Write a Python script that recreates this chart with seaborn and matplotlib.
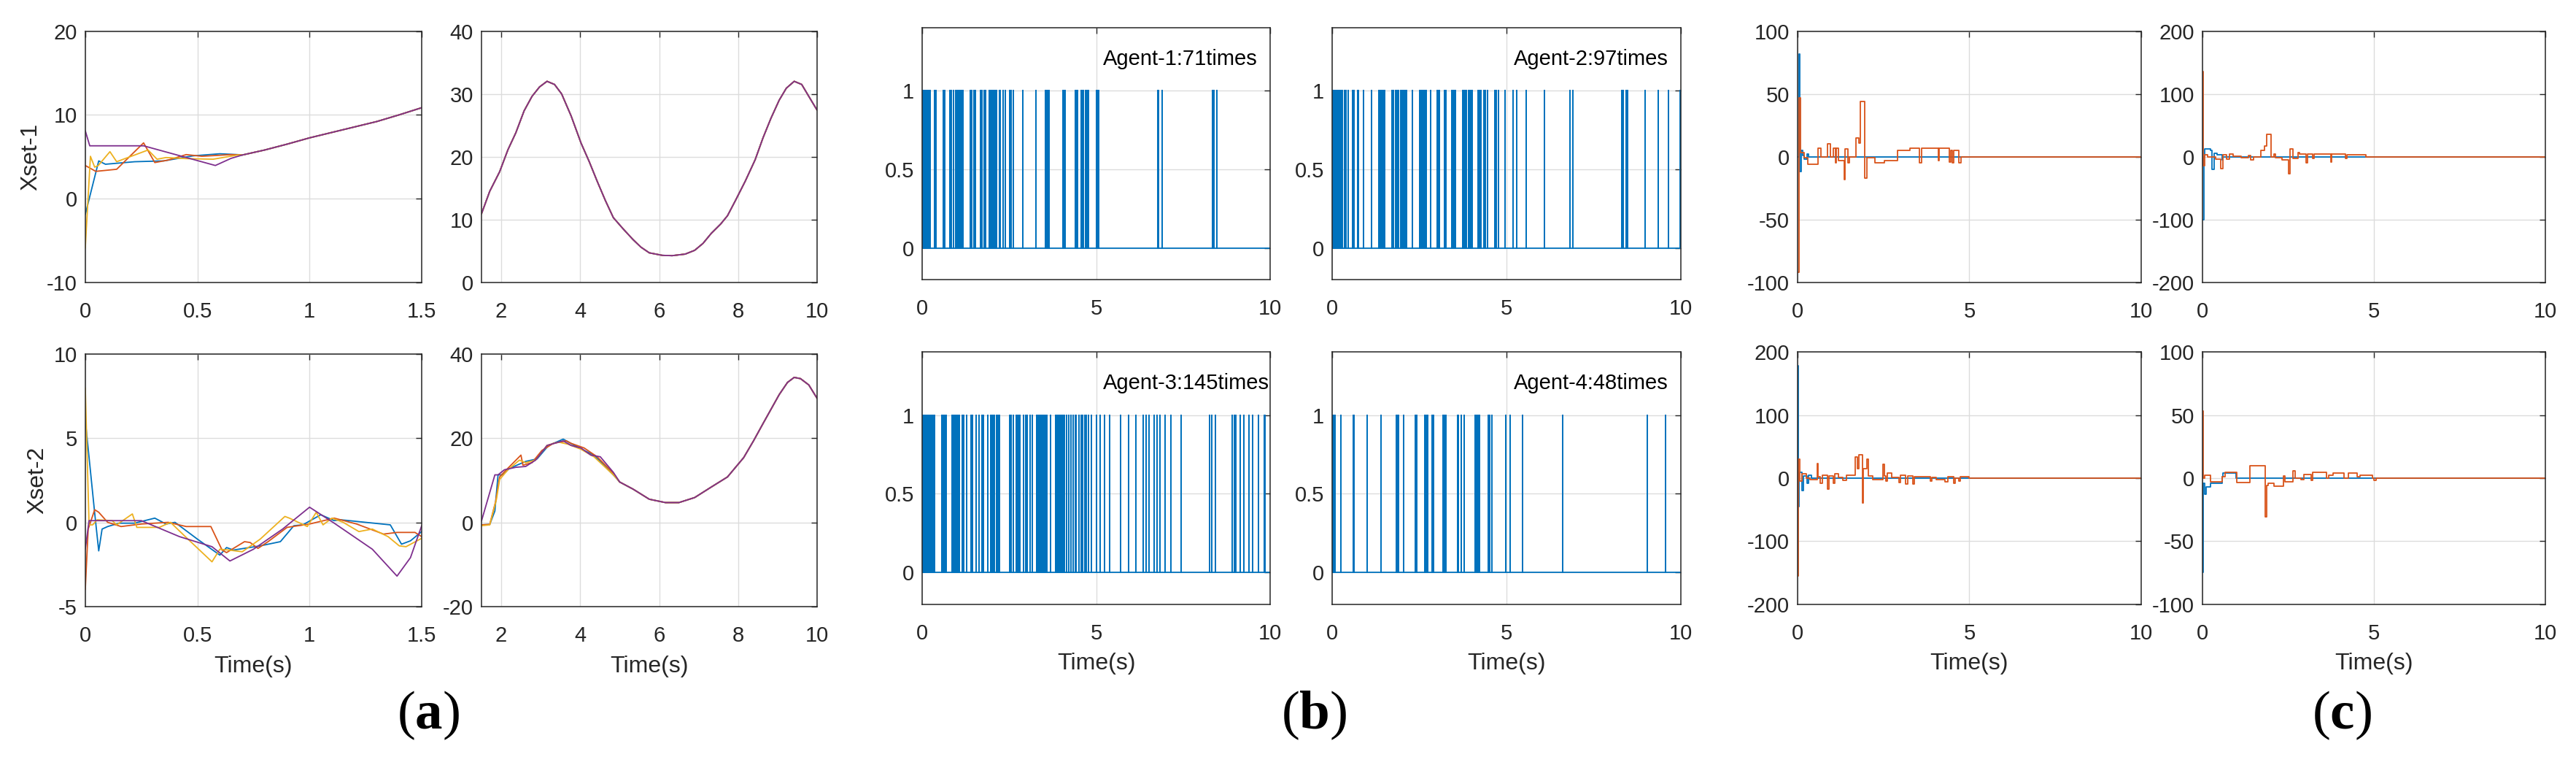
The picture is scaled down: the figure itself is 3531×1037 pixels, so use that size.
import numpy as np
import pandas as pd
import matplotlib
matplotlib.use("Agg")
import matplotlib.pyplot as plt
import seaborn as sns
from matplotlib.ticker import FuncFormatter

AGENTS = ["Agent-1", "Agent-2", "Agent-3", "Agent-4"]
MATLAB_COLORS = ["#0072BD", "#D95319", "#EDB120", "#7E2F8E"]
SIM_END = 10.0

# ---- panel (a): Xset-1, first 1.5 s ----
x1_blue_t = [0, 0.06, 0.09, 0.22, 0.35, 0.48, 0.60, 0.68]
x1_blue_v = [-1.9, 4.5, 4.1, 4.4, 4.5, 5.1, 5.35, 5.25]
x1_orange_t = [0, 0.047, 0.14, 0.26, 0.31, 0.37, 0.45, 0.52, 0.65]
x1_orange_v = [3.95, 3.25, 3.5, 6.65, 4.3, 4.6, 5.25, 5.05, 5.25]
x1_yellow_t = [0, 0.023, 0.042, 0.058, 0.11, 0.14, 0.22, 0.28, 0.32, 0.36, 0.45, 0.57, 0.68]
x1_yellow_v = [-5.9, 5.05, 3.75, 3.95, 5.6, 4.4, 5.2, 5.8, 4.7, 4.9, 4.77, 4.7, 5.2]
x1_purple_t = [0, 0.02, 0.26, 0.58, 0.65]
x1_purple_v = [8.1, 6.3, 6.3, 3.95, 4.8]
# all agents agree after ~0.7 s
x1_common_t = [0.7, 0.8, 0.9, 1.0, 1.1, 1.2, 1.3, 1.4, 1.5]
x1_common_v = [5.2, 5.8, 6.5, 7.25, 7.9, 8.55, 9.2, 10.0, 10.85]

# ---- panel (a): Xset-1, 1.5 s .. 10 s (agents overlap) ----
x1_tail_t = [1.5, 1.71, 1.96, 2.17, 2.37, 2.58, 2.78, 2.97, 3.16, 3.35, 3.53, 3.77,
             4.02, 4.23, 4.43, 4.64, 4.84, 5.09, 5.34, 5.54, 5.75, 6.08, 6.33, 6.66,
             6.9, 7.11, 7.32, 7.56, 7.73, 7.93, 8.18, 8.43, 8.63, 8.83, 9.04, 9.22,
             9.42, 9.61, 9.79, 10.0]
x1_tail_v = [10.9, 14.5, 17.6, 21.1, 23.8, 27.3, 29.6, 31.1, 32.0, 31.5, 30.0, 26.5,
             22.2, 19.2, 16.1, 13.0, 10.3, 8.5, 6.8, 5.6, 4.7, 4.3, 4.25, 4.5,
             5.1, 6.2, 7.8, 9.3, 10.6, 13.0, 16.1, 19.5, 23.0, 26.1, 29.0, 30.9,
             32.0, 31.5, 29.6, 27.4]

# ---- panel (a): Xset-2, first 1.5 s ----
x2_blue_t = [0, 0.042, 0.06, 0.075, 0.1, 0.15, 0.22, 0.31, 0.36, 0.4, 0.5, 0.6, 0.63,
             0.66, 0.78, 0.87, 0.93, 0.97, 1.05, 1.11, 1.14, 1.36, 1.41, 1.45, 1.5]
x2_blue_v = [6.1, 0.55, -1.7, -0.4, -0.25, -0.05, -0.05, 0.25, -0.1, 0.0, -1.0, -1.95, -1.5,
             -1.65, -1.4, -1.15, -0.2, -0.15, 0.45, 0.1, 0.15, -0.15, -1.3, -1.1, -0.55]
x2_orange_t = [0, 0.013, 0.042, 0.06, 0.1, 0.16, 0.25, 0.37, 0.45, 0.56, 0.61, 0.63, 0.71,
               0.735, 0.77, 0.815, 0.9, 1.0, 1.11, 1.21, 1.33, 1.39, 1.47, 1.5]
x2_orange_v = [-4.0, -0.4, 0.75, 0.6, 0.0, -0.25, -0.1, 0.0, -0.25, -0.25, -1.65, -1.8, -1.15,
               -1.2, -1.55, -1.15, -0.3, -0.1, 0.25, -0.1, -0.7, -0.6, -0.6, -0.85]
x2_yellow_t = [0, 0.017, 0.033, 0.053, 0.12, 0.14, 0.21, 0.23, 0.33, 0.38, 0.45, 0.565, 0.6,
               0.64, 0.7, 0.78, 0.89, 0.91, 0.99, 1.03, 1.06, 1.1, 1.15, 1.22, 1.28, 1.35,
               1.4, 1.43, 1.5]
x2_yellow_v = [8.0, -0.15, -0.15, 0.15, 0.1, -0.15, 0.5, -0.3, -0.3, 0.0, -0.9, -2.35, -1.6,
               -1.65, -1.75, -1.0, 0.35, 0.25, -0.25, 0.6, -0.15, 0.25, 0.0, -0.55, -0.4, -0.85,
               -1.4, -1.45, -0.95]
x2_purple_t = [0, 0.017, 0.05, 0.25, 0.42, 0.565, 0.645, 0.75, 0.88, 1.0, 1.11, 1.28, 1.39, 1.45, 1.5]
x2_purple_v = [-1.6, 0.1, 0.1, 0.1, -0.85, -1.45, -2.3, -1.6, -0.4, 0.9, -0.05, -1.6, -3.2, -2.1, -0.2]

# ---- panel (a): Xset-2, 1.5 s .. 10 s ----
x2r_blue_t = [1.5, 1.71, 1.84, 1.92, 2.04, 2.2, 2.62, 2.91, 3.2, 3.57, 3.86, 4.1, 4.35, 4.84]
x2r_blue_v = [-0.6, -0.5, 2.7, 11.3, 11.3, 12.8, 14.5, 15.1, 18.3, 19.8, 18.3, 17.1, 16.0, 11.3]
x2r_orange_t = [1.5, 1.71, 1.86, 1.96, 2.13, 2.5, 2.55, 2.78, 3.03, 3.32, 3.65, 3.77, 4.1, 4.43, 4.84]
x2r_orange_v = [-0.6, -0.5, 5.0, 10.8, 12.5, 16.0, 13.6, 14.2, 17.1, 18.8, 19.4, 18.8, 17.7, 15.6, 11.7]
x2r_yellow_t = [1.5, 1.71, 1.88, 1.96, 2.17, 2.46, 2.62, 2.87, 3.16, 3.45, 3.69, 4.02, 4.35, 4.84]
x2r_yellow_v = [-0.8, -0.6, 5.5, 10.2, 12.5, 14.8, 14.2, 14.8, 18.3, 19.1, 18.6, 17.4, 15.6, 11.3]
x2r_purple_t = [1.5, 1.84, 1.92, 2.08, 2.37, 2.62, 2.87, 3.16, 3.57, 3.77, 4.02, 4.27, 4.51, 4.84]
x2r_purple_v = [0.3, 11.3, 11.3, 12.5, 13.1, 13.3, 14.8, 18.3, 19.4, 18.3, 17.7, 16.0, 15.6, 11.9]
x2_tail_t = [5.0, 5.34, 5.75, 6.16, 6.5, 6.9, 7.32, 7.73, 8.14, 8.39, 8.63, 9.04, 9.25, 9.42, 9.58, 9.79, 10.0]
x2_tail_v = [9.6, 7.9, 5.5, 4.7, 4.7, 5.9, 8.4, 10.8, 15.4, 19.4, 23.5, 30.4, 33.3, 34.5, 34.2, 32.7, 29.5]

# ---- panel (b): event-triggering instants (s) ----
b_counts = [71, 97, 145, 48]
b1_events = [0.0, 0.02, 0.03, 0.06, 0.08, 0.1, 0.14, 0.18, 0.22, 0.36, 0.40, 0.60, 0.64, 0.80,
             0.84, 0.90, 0.96, 1.0, 1.04, 1.08, 1.12, 1.18, 1.38, 1.43, 1.48, 1.52, 1.68, 1.72,
             1.78, 1.82, 1.93, 1.97, 2.01, 2.05, 2.09, 2.13, 2.21, 2.25, 2.33, 2.38, 2.51, 2.56,
             2.61, 2.9, 3.26, 3.55, 3.57, 3.6, 3.63, 3.65, 4.05, 4.09, 4.11, 4.41, 4.43, 4.47,
             4.57, 4.59, 4.63, 4.69, 4.73, 4.77, 5.01, 5.05, 5.07, 6.76, 6.79, 6.9, 8.35, 8.38, 8.46]
b2_events = [0.0, 0.01, 0.03, 0.04, 0.06, 0.08, 0.1, 0.12, 0.16, 0.22, 0.26, 0.3, 0.35, 0.4,
             0.46, 0.58, 0.6, 0.63, 0.74, 0.76, 0.9, 1.14, 1.34, 1.36, 1.39, 1.42, 1.44, 1.46,
             1.5, 1.72, 1.76, 1.82, 1.86, 1.9, 1.97, 2.0, 2.02, 2.04, 2.07, 2.08, 2.1, 2.12,
             2.14, 2.31, 2.51, 2.54, 2.56, 2.59, 2.62, 2.66, 2.7, 2.82, 3.02, 3.04, 3.07, 3.22,
             3.24, 3.27, 3.43, 3.46, 3.48, 3.5, 3.54, 3.75, 3.78, 3.82, 3.86, 3.91, 3.93, 3.95,
             3.99, 4.02, 4.18, 4.22, 4.26, 4.35, 4.4, 4.46, 4.67, 4.71, 4.78, 4.96, 5.18, 5.3,
             5.56, 6.08, 6.82, 6.9, 8.31, 8.35, 8.43, 8.47, 8.98, 9.35, 9.64, 9.98]
b3_events = [0.0, 0.02, 0.04, 0.06, 0.08, 0.1, 0.12, 0.14, 0.16, 0.18, 0.22, 0.26, 0.32, 0.36,
             0.56, 0.6, 0.64, 0.68, 0.86, 0.9, 0.94, 0.98, 1.02, 1.07, 1.15, 1.19, 1.28, 1.4,
             1.44, 1.54, 1.64, 1.72, 1.76, 1.88, 1.96, 2.0, 2.04, 2.08, 2.13, 2.17, 2.21, 2.51,
             2.55, 2.61, 2.7, 2.73, 2.77, 2.81, 2.91, 2.98, 3.02, 3.09, 3.17, 3.29, 3.3, 3.31,
             3.34, 3.36, 3.38, 3.4, 3.41, 3.43, 3.44, 3.46, 3.48, 3.5, 3.52, 3.53, 3.55, 3.58,
             3.69, 3.83, 3.84, 3.85, 3.87, 3.88, 3.9, 3.92, 3.94, 3.95, 3.97, 3.99, 4.0, 4.02,
             4.04, 4.05, 4.07, 4.08, 4.09, 4.15, 4.21, 4.27, 4.33, 4.39, 4.43, 4.51, 4.57, 4.61,
             4.67, 4.72, 4.77, 4.87, 5.0, 5.11, 5.23, 5.39, 5.69, 5.93, 6.15, 6.34, 6.44, 6.52,
             6.66, 6.75, 6.83, 6.98, 7.14, 7.44, 8.26, 8.32, 8.42, 8.9, 8.96, 9.02, 9.14, 9.25,
             9.38, 9.5, 9.66, 9.82, 9.86]
b4_events = [0.0, 0.01, 0.03, 0.04, 0.06, 0.08, 0.26, 0.6, 0.64, 1.0, 1.4, 1.84, 1.87, 1.9,
             2.06, 2.38, 2.42, 2.66, 2.68, 2.7, 2.71, 2.74, 2.86, 2.9, 3.18, 3.2, 3.23, 3.27,
             3.6, 3.63, 3.7, 3.78, 4.11, 4.12, 4.14, 4.16, 4.19, 4.2, 4.22, 4.48, 4.51, 4.58,
             4.98, 5.1, 5.46, 6.62, 9.04, 9.56]

# ---- panel (c): control inputs, sample-and-hold (s, value) ----
c1_blue_t = [0, 0.04, 0.07, 0.1, 0.15, 0.2, 0.27, 0.33, 10]
c1_blue_v = [0, 82, -12, 5, 1, -2, 2, 0, 0]
c1_orange_t = [0, 0.05, 0.08, 0.2, 0.3, 0.6, 0.68, 0.88, 0.96, 1.04, 1.1, 1.13, 1.19, 1.35,
               1.39, 1.47, 1.51, 1.71, 1.78, 1.82, 1.96, 2.01, 2.25, 2.53, 2.65, 2.9, 3.28,
               3.55, 3.6, 4.09, 4.13, 4.42, 4.46, 4.5, 4.54, 4.6, 4.7, 4.75, 10]
c1_orange_v = [-92, 47, 3, -1, -6, 7, 0, 10, 0, 7, -5, 7, -3, -18,
               6, -5, 0, 15, 11, 44, -17, -1, -5, -3, -3, 5, 7,
               -5, 7, -3, 7, -4, 5, -5, 5, 5, -5, 0, 0]
c2_blue_t = [0, 0.05, 0.07, 0.23, 0.27, 0.33, 0.43, 0.57, 0.6, 10]
c2_blue_v = [-100, 0, 12, 10, -20, 5, 3, -5, 0, 0]
c2_orange_t = [0, 0.03, 0.06, 0.15, 0.39, 0.54, 0.6, 0.7, 0.78, 0.9, 1.13, 1.33, 1.41, 1.49,
               1.7, 1.8, 1.88, 2.0, 2.08, 2.12, 2.32, 2.51, 2.55, 2.63, 2.79, 2.83, 3.03, 3.07,
               3.22, 3.26, 3.74, 3.77, 4.17, 4.21, 4.76, 10]
c2_orange_v = [136, -14, 3, 0, -4, -19, 3, -4, 4, 1, -2, 2, -5, 0,
               10, 17, 36, 0, 4, -2, -5, -27, 12, -3, 7, 4, -10, 4,
               -3, 4, -8, 4, -3, 3, 0, 0]
c3_blue_t = [0, 0.02, 0.05, 0.13, 0.18, 0.27, 0.32, 0.4, 10]
c3_blue_v = [178, -45, 9, -20, 3, -8, 5, 0, 0]
c3_orange_t = [0, 0.02, 0.07, 0.13, 0.25, 0.37, 0.57, 0.59, 0.67, 0.72, 0.88, 0.92, 1.04, 1.08,
               1.19, 1.31, 1.43, 1.67, 1.75, 1.78, 1.9, 1.92, 2.02, 2.06, 2.18, 2.49, 2.53,
               2.57, 2.61, 2.73, 2.96, 3.0, 3.14, 3.2, 3.36, 3.4, 3.87, 3.91, 4.03, 4.3, 4.38,
               4.54, 4.58, 4.69, 4.73, 5.0, 10]
c3_orange_v = [-155, 30, -5, 7, 0, -2, 23, 2, -8, 5, -18, 3, -8, 7,
               1, -4, 5, 33, 15, 37, -40, 15, 30, 3, -3, 22, 3,
               -5, 8, 1, -7, 5, -10, 3, -10, 2, -5, 1, -3, -6, 2,
               -8, 0, -5, 2, 0, 0]
c4_blue_t = [0, 0.03, 0.07, 0.11, 0.23, 0.57, 0.6, 0.98, 10]
c4_blue_v = [-75, -4, -13, -7, -4, 1, 4, 0, 0]
c4_orange_t = [0, 0.03, 0.06, 0.23, 0.57, 0.65, 0.99, 1.39, 1.83, 1.84, 1.88, 1.92, 2.08, 2.36,
               2.4, 2.63, 2.71, 2.87, 2.95, 3.18, 3.22, 3.62, 3.69, 3.81, 4.13, 4.25, 4.52,
               4.6, 4.96, 5.0, 5.07, 10]
c4_orange_v = [53, 0, 2, -3, 1, 4.5, -3.3, 9.7, -3, -31, -6, -4, -6.6, 1.5,
               -3, 5.6, 0, -1, 3, -2, 4.3, 0, 2, 4, 0, 4, 1,
               2, 0, -2, 0, 0]

# ---------------------------------------------------------------------------
sns.set_style("white")
plt.rcParams["font.family"] = ["Liberation Sans", "DejaVu Sans"]
plt.rcParams["mathtext.fontset"] = "custom"
plt.rcParams["mathtext.bf"] = "Liberation Serif:bold"
plt.rcParams["mathtext.rm"] = "Liberation Serif"

INK = "#262626"
TICK_FS = 21
LABEL_FS = 23


def long_frame(series):
    frames = []
    for name, t, v in series:
        frames.append(pd.DataFrame({"t": t, "v": v, "agent": name}))
    return pd.concat(frames, ignore_index=True)


def style_axes(ax, xlim, xticks, ylim, yticks):
    ax.set_xlim(*xlim)
    ax.set_ylim(*ylim)
    ax.set_xticks(xticks)
    ax.set_yticks(yticks)
    fmt = FuncFormatter(lambda x, _: f"{x:g}")
    ax.xaxis.set_major_formatter(fmt)
    ax.yaxis.set_major_formatter(fmt)
    ax.grid(True, color="#dcdcdc", linewidth=1.0)
    ax.set_axisbelow(True)
    for sp in ax.spines.values():
        sp.set_visible(True)
        sp.set_color(INK)
        sp.set_linewidth(1.1)
    ax.tick_params(direction="in", top=True, right=True, length=6, width=1.0,
                   color=INK, labelcolor=INK, labelsize=TICK_FS)
    ax.tick_params(axis="x", pad=19)
    ax.tick_params(axis="y", pad=8)
    ax.set_xlabel("")
    ax.set_ylabel("")


def agent_lines(ax, df, palette, **kw):
    sns.lineplot(data=df, x="t", y="v", hue="agent", palette=palette, sort=False,
                 estimator=None, legend=False, linewidth=1.3, ax=ax, **kw)


def time_label(ax):
    ax.set_xlabel("Time(s)", fontsize=LABEL_FS, color=INK, labelpad=9)


fig = plt.figure(figsize=(35.31, 10.37), dpi=100)

TOP_B, TOP_H = 0.627, 0.332
BOT_B, BOT_H = 0.199, 0.333

# ---------------- panel (a) ----------------
a_pal = dict(zip(AGENTS, MATLAB_COLORS))

ax = fig.add_axes([0.0331, TOP_B, 0.1306, TOP_H])
df = long_frame([
    ("Agent-1", x1_blue_t + x1_common_t, x1_blue_v + x1_common_v),
    ("Agent-2", x1_orange_t + x1_common_t, x1_orange_v + x1_common_v),
    ("Agent-3", x1_yellow_t + x1_common_t, x1_yellow_v + x1_common_v),
    ("Agent-4", x1_purple_t + x1_common_t, x1_purple_v + x1_common_v),
])
agent_lines(ax, df, a_pal)
style_axes(ax, (0, 1.5), [0, 0.5, 1, 1.5], (-10, 20), [-10, 0, 10, 20])
ax.set_ylabel("Xset-1", fontsize=LABEL_FS, color=INK)
ax.yaxis.set_label_coords(-0.13, 0.5)

ax = fig.add_axes([0.1869, TOP_B, 0.1303, TOP_H])
df = long_frame([(a, x1_tail_t, x1_tail_v) for a in AGENTS])
agent_lines(ax, df, a_pal)
style_axes(ax, (1.5, 10), [2, 4, 6, 8, 10], (0, 40), [0, 10, 20, 30, 40])

ax = fig.add_axes([0.0331, BOT_B, 0.1306, BOT_H])
df = long_frame([
    ("Agent-1", x2_blue_t, x2_blue_v),
    ("Agent-2", x2_orange_t, x2_orange_v),
    ("Agent-3", x2_yellow_t, x2_yellow_v),
    ("Agent-4", x2_purple_t, x2_purple_v),
])
agent_lines(ax, df, a_pal)
style_axes(ax, (0, 1.5), [0, 0.5, 1, 1.5], (-5, 10), [-5, 0, 5, 10])
ax.set_ylabel("Xset-2", fontsize=LABEL_FS, color=INK)
ax.yaxis.set_label_coords(-0.11, 0.5)
time_label(ax)

ax = fig.add_axes([0.1869, BOT_B, 0.1303, BOT_H])
df = long_frame([
    ("Agent-1", x2r_blue_t + x2_tail_t, x2r_blue_v + x2_tail_v),
    ("Agent-2", x2r_orange_t + x2_tail_t, x2r_orange_v + x2_tail_v),
    ("Agent-3", x2r_yellow_t + x2_tail_t, x2r_yellow_v + x2_tail_v),
    ("Agent-4", x2r_purple_t + x2_tail_t, x2r_purple_v + x2_tail_v),
])
agent_lines(ax, df, a_pal)
style_axes(ax, (1.5, 10), [2, 4, 6, 8, 10], (-20, 40), [-20, 0, 20, 40])
time_label(ax)

# ---------------- panel (b) ----------------
b_events = [b1_events, b2_events, b3_events, b4_events]
b_pos = [[0.358, TOP_B + 0.004, 0.1351, TOP_H], [0.5171, TOP_B + 0.004, 0.1354, TOP_H],
         [0.358, BOT_B + 0.003, 0.1351, BOT_H], [0.5171, BOT_B + 0.003, 0.1354, BOT_H]]
for i, (ev, pos) in enumerate(zip(b_events, b_pos)):
    ax = fig.add_axes(pos)
    ev = np.asarray(ev)
    t = np.concatenate([[0.0], np.repeat(ev, 3), [SIM_END]])
    v = np.concatenate([[0.0], np.tile([0.0, 1.0, 0.0], len(ev)), [0.0]])
    sns.lineplot(x=t, y=v, sort=False, estimator=None, color=MATLAB_COLORS[0],
                 linewidth=1.3, ax=ax)
    style_axes(ax, (0, 10), [0, 5, 10], (-0.2, 1.4), [0, 0.5, 1])
    ax.text(5.2, 1.2, f"{AGENTS[i]}:{b_counts[i]}times", fontsize=21, color="black",
            ha="left", va="center")
    if i >= 2:
        time_label(ax)

# ---------------- panel (c) ----------------
c_series = [(c1_blue_t, c1_blue_v, c1_orange_t, c1_orange_v),
            (c2_blue_t, c2_blue_v, c2_orange_t, c2_orange_v),
            (c3_blue_t, c3_blue_v, c3_orange_t, c3_orange_v),
            (c4_blue_t, c4_blue_v, c4_orange_t, c4_orange_v)]
c_lims = [(-100, 100, [-100, -50, 0, 50, 100]), (-200, 200, [-200, -100, 0, 100, 200]),
          (-200, 200, [-200, -100, 0, 100, 200]), (-100, 100, [-100, -50, 0, 50, 100])]
c_text_y = [0.876, 0.90, 0.862, 0.855]
c_pos = [[0.6978, TOP_B, 0.1334, TOP_H], [0.855, TOP_B, 0.1331, TOP_H],
         [0.6978, BOT_B + 0.003, 0.1334, BOT_H], [0.855, BOT_B + 0.003, 0.1331, BOT_H]]
c_pal = {"u1": MATLAB_COLORS[0], "u2": MATLAB_COLORS[1]}
for i, (ser, lim, pos) in enumerate(zip(c_series, c_lims, c_pos)):
    ax = fig.add_axes(pos)
    bt, bv, ot, ov = ser
    df = long_frame([("u1", bt, bv), ("u2", ot, ov)])
    agent_lines(ax, df, c_pal, drawstyle="steps-post")
    style_axes(ax, (0, 10), [0, 5, 10], (lim[0], lim[1]), lim[2])
    ax.text(7.23, c_text_y[i], AGENTS[i], transform=ax.get_yaxis_transform(),
            fontsize=20, color="black", ha="left", va="center")
    if i >= 2:
        time_label(ax)

# ---------------- sub-figure captions ----------------
for label, x in [("a", 0.1662), ("b", 0.510), ("c", 0.909)]:
    fig.text(x, 0.055, "(" + r"$\mathbf{" + label + "}$" + ")", fontsize=54,
             family="Liberation Serif", ha="center", va="center", color="black")

fig.savefig("out.png", dpi=100, facecolor="white")
